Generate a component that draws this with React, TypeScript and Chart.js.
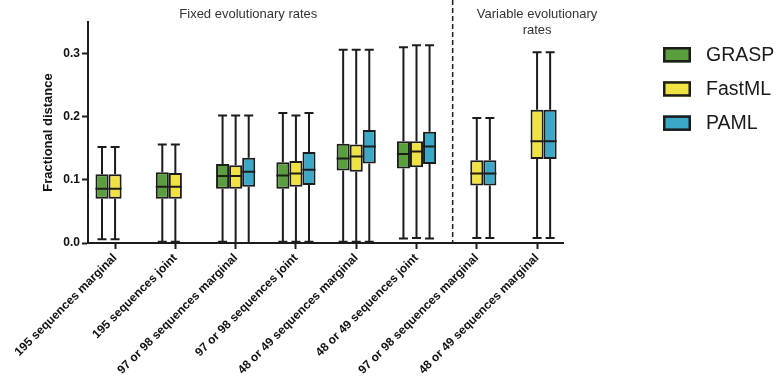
import React, { useEffect, useRef } from "react";
import { Chart, registerables } from "chart.js";

Chart.register(...registerables);

// ---------- DATA ----------
const categories = [
  "195 sequences marginal",
  "195 sequences joint",
  "97 or 98 sequences marginal",
  "97 or 98 sequences joint",
  "48 or 49 sequences marginal",
  "48 or 49 sequences joint",
  "97 or 98 sequences marginal",
  "48 or 49 sequences marginal",
];

const seriesNames = ["GRASP", "FastML", "PAML"];

// each entry: [min, q1, median, q3, max] (null = no box)
const grasp: (number[] | null)[] = [
  [0.006, 0.070, 0.086, 0.109, 0.152],
  [0.002, 0.070, 0.089, 0.112, 0.156],
  [0.002, 0.086, 0.106, 0.125, 0.202],
  [0.002, 0.086, 0.107, 0.128, 0.206],
  [0.002, 0.115, 0.134, 0.157, 0.306],
  [0.007, 0.118, 0.141, 0.161, 0.310],
  null,
  null,
];
const fastml: (number[] | null)[] = [
  [0.006, 0.070, 0.086, 0.109, 0.152],
  [0.002, 0.070, 0.089, 0.111, 0.156],
  [0.000, 0.086, 0.106, 0.123, 0.202],
  [0.002, 0.089, 0.110, 0.130, 0.202],
  [0.002, 0.113, 0.137, 0.156, 0.306],
  [0.008, 0.120, 0.145, 0.161, 0.313],
  [0.008, 0.091, 0.110, 0.131, 0.198],
  [0.008, 0.133, 0.161, 0.211, 0.302],
];
const paml: (number[] | null)[] = [
  null,
  null,
  [0.000, 0.089, 0.113, 0.135, 0.202],
  [0.002, 0.092, 0.116, 0.144, 0.206],
  [0.002, 0.126, 0.153, 0.179, 0.306],
  [0.007, 0.125, 0.153, 0.176, 0.313],
  [0.008, 0.091, 0.110, 0.131, 0.198],
  [0.008, 0.133, 0.161, 0.211, 0.302],
];

const yTicks = [0, 0.1, 0.2, 0.3];
const groupLabels = [
  { lines: ["Fixed evolutionary rates"], at: 2.21 },
  { lines: ["Variable evolutionary", "rates"], at: 7.0 },
];
const dividerAt = 5.6;

const colors = ["#5b9e3d", "#f1e244", "#3ba8c8"];
const FONT = "'Liberation Sans', Arial, Helvetica, sans-serif";
const INK = "#1c1c1c";

// ---------- PLUGIN ----------
const boxPlugin = {
  id: "boxWhiskers",
  afterDatasetsDraw(chart: any) {
    const { ctx, scales } = chart;
    const y = scales.y;
    chart.data.datasets.forEach((ds: any, di: number) => {
      const meta = chart.getDatasetMeta(di);
      meta.data.forEach((el: any, j: number) => {
        const idx = ds.data[j].x;
        const s = ds.stats[idx];
        if (!s) return;
        const cx = el.x;
        const w = el.width;
        const [mn, q1, md, q3, mx] = s;
        const pMin = y.getPixelForValue(mn);
        const pQ1 = y.getPixelForValue(q1);
        const pMd = y.getPixelForValue(md);
        const pQ3 = y.getPixelForValue(q3);
        const pMax = y.getPixelForValue(mx);
        ctx.save();
        ctx.strokeStyle = INK;
        ctx.lineWidth = 2;
        ctx.beginPath();
        ctx.moveTo(cx, pQ3);
        ctx.lineTo(cx, pMax);
        ctx.moveTo(cx - 4.5, pMax);
        ctx.lineTo(cx + 4.5, pMax);
        ctx.moveTo(cx, pQ1);
        ctx.lineTo(cx, pMin);
        ctx.moveTo(cx - 4.5, pMin);
        ctx.lineTo(cx + 4.5, pMin);
        ctx.moveTo(cx - w / 2, pMd);
        ctx.lineTo(cx + w / 2, pMd);
        ctx.stroke();
        ctx.restore();
      });
    });
  },
  afterDraw(chart: any) {
    const { ctx, scales, chartArea } = chart;
    const x = scales.x;
    ctx.save();
    // divider
    const dx = x.getPixelForValue(dividerAt);
    ctx.strokeStyle = INK;
    ctx.lineWidth = 1.5;
    ctx.setLineDash([5, 3]);
    ctx.beginPath();
    ctx.moveTo(dx, 0);
    ctx.lineTo(dx, chartArea.bottom);
    ctx.stroke();
    ctx.setLineDash([]);
    // group labels
    ctx.fillStyle = "#333";
    ctx.font = `13px ${FONT}`;
    ctx.textAlign = "center";
    ctx.textBaseline = "middle";
    groupLabels.forEach((g) => {
      const gx = x.getPixelForValue(g.at);
      g.lines.forEach((ln, i) => ctx.fillText(ln, gx, 14 + i * 16));
    });
    // legend
    const lx = 663;
    const ly = 47;
    ctx.font = `19.5px ${FONT}`;
    ctx.textAlign = "left";
    seriesNames.forEach((name, i) => {
      const top = ly + i * 34.2;
      ctx.fillStyle = colors[i];
      ctx.fillRect(lx, top, 28, 15.5);
      ctx.strokeStyle = INK;
      ctx.lineWidth = 2.5;
      ctx.strokeRect(lx + 1.25, top + 1.25, 25.5, 13);
      ctx.fillStyle = "#1a1a1a";
      ctx.fillText(name, 706, top + 8.5);
    });
    ctx.restore();
  },
};

function App() {
  const canvasRef = useRef<HTMLCanvasElement | null>(null);

  useEffect(() => {
    const all = [grasp, fastml, paml];
    const datasets = all.map((arr, i) => ({
      label: seriesNames[i],
      stats: arr,
      data: arr
        .map((s, idx) => (s ? { x: idx, y: [s[1], s[3]] } : null))
        .filter((d) => d !== null),
      backgroundColor: colors[i],
      borderColor: INK,
      borderWidth: 2,
      borderSkipped: false,
      categoryPercentage: 0.65,
      barPercentage: 1.0,
    }));

    const chart = new Chart(canvasRef.current as HTMLCanvasElement, {
      type: "bar",
      data: { datasets } as any,
      options: {
        animation: false,
        responsive: true,
        maintainAspectRatio: false,
        layout: { padding: { top: 22, right: 213, left: 0, bottom: 0 } },
        plugins: { legend: { display: false }, tooltip: { enabled: false } },
        scales: {
          x: {
            type: "linear",
            min: -0.449,
            max: 7.43,
            offset: false,
            afterBuildTicks: (s: any) => {
              s.ticks = categories.map((_, i) => ({ value: i }));
            },
            afterFit: (s: any) => {
              s.height = 138;
            },
            grid: {
              offset: false,
              drawOnChartArea: false,
              drawTicks: true,
              tickLength: 6,
              tickWidth: 2,
              tickColor: INK,
            },
            border: { display: true, color: INK, width: 2 },
            ticks: {
              autoSkip: false,
              minRotation: 45,
              maxRotation: 45,
              padding: 2,
              color: "#111",
              font: { family: FONT, size: 12, weight: "bold" },
              callback: (v: any) => categories[v] ?? "",
            },
          },
          y: {
            min: 0,
            max: 0.35,
            afterBuildTicks: (s: any) => {
              s.ticks = yTicks.map((v) => ({ value: v }));
            },
            afterFit: (s: any) => {
              s.width = 88;
            },
            grid: {
              drawOnChartArea: false,
              drawTicks: true,
              tickLength: 6,
              tickWidth: 2,
              tickColor: INK,
            },
            border: { display: true, color: INK, width: 2 },
            ticks: {
              padding: 2,
              color: "#111",
              font: { family: FONT, size: 12, weight: "bold" },
              callback: (v: any) => Number(v).toFixed(1),
            },
            title: {
              display: true,
              text: "Fractional distance",
              color: "#111",
              padding: { top: 41, bottom: 0 },
              font: { family: FONT, size: 13, weight: "bold" },
            },
          },
        },
      } as any,
      plugins: [boxPlugin],
    });
    return () => chart.destroy();
  }, []);

  return (
    <div style={{ position: "fixed", left: 0, top: 0, width: 776, height: 381, background: "#fff" }}>
      <canvas ref={canvasRef} />
    </div>
  );
}

export default App;
